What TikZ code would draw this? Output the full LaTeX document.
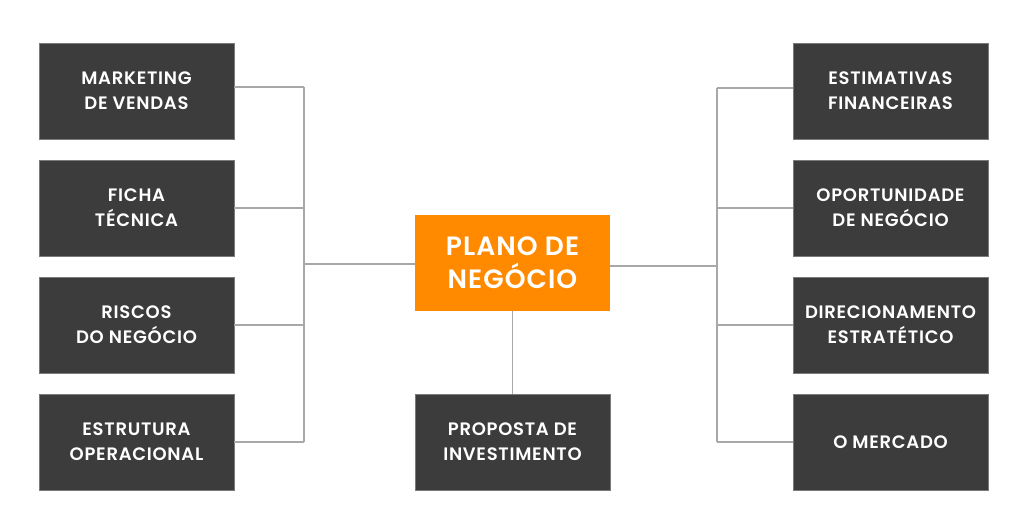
\documentclass[tikz,border=0pt]{standalone}
\usepackage{fontspec}
\setmainfont{Poppins}[BoldFont={Poppins SemiBold},LetterSpace=4]
\definecolor{boxdark}{HTML}{3C3C3C}
\definecolor{boxedge}{HTML}{7A7A7A}
\definecolor{orangebox}{HTML}{FF8A00}
\definecolor{linegray}{HTML}{A8A8A8}
\begin{document}
\begin{tikzpicture}[x=1pt,y=-1pt,
  item/.style={fill=boxdark,draw=boxedge,line width=0.8pt,minimum width=195pt,minimum height=96pt,
    text=white,font=\bfseries\fontsize{18}{25}\selectfont,align=center,inner sep=0pt},
  hub/.style={fill=orangebox,draw=none,minimum width=195pt,minimum height=96pt,
    text=white,font=\bfseries\fontsize{26.5}{33}\selectfont,align=center,inner sep=0pt},
  conn/.style={draw=linegray,line width=1.4pt}]
\useasboundingbox[fill=white] (0,0) rectangle (1024,529);
% left column
\node[item] (l1) at (136.5,91) {MARKETING\\DE VENDAS};
\node[item] (l2) at (136.5,208) {FICHA\\TÉCNICA};
\node[item] (l3) at (136.5,325) {RISCOS\\DO NEGÓCIO};
\node[item] (l4) at (136.5,442) {ESTRUTURA\\OPERACIONAL};
% right column
\node[item] (r1) at (890.5,91) {ESTIMATIVAS\\FINANCEIRAS};
\node[item] (r2) at (890.5,208) {OPORTUNIDADE\\DE NEGÓCIO};
\node[item] (r3) at (890.5,325) {DIRECIONAMENTO\\ESTRATÉTICO};
\node[item] (r4) at (890.5,442) {O MERCADO};
% center
\node[hub] (c) at (512.5,263) {PLANO DE\\NEGÓCIO};
\node[item] (b) at (512.5,442) {PROPOSTA DE\\INVESTIMENTO};
% buses
\coordinate (lb1) at (304,87);
\coordinate (lb4) at (304,442);
\coordinate (lbc) at (304,264);
\coordinate (rb1) at (717,88);
\coordinate (rb4) at (717,442);
\coordinate (rbc) at (717,266);
\draw[conn] (lb1) -- (lb4);
\draw[conn] (rb1) -- (rb4);
\draw[conn] (l1.east |- lb1) -- (lb1);
\draw[conn] (l2.east) -- (l2.east -| lb1);
\draw[conn] (l3.east) -- (l3.east -| lb1);
\draw[conn] (l4.east) -- (lb4);
\draw[conn] (r1.west |- rb1) -- (rb1);
\draw[conn] (r2.west) -- (r2.west -| rb1);
\draw[conn] (r3.west) -- (r3.west -| rb1);
\draw[conn] (r4.west) -- (rb4);
\draw[conn] (lbc) -- (c.west |- lbc);
\draw[conn] (c.east |- rbc) -- (rbc);
\draw[conn] (c.south) -- (b.north);
\end{tikzpicture}
\end{document}
